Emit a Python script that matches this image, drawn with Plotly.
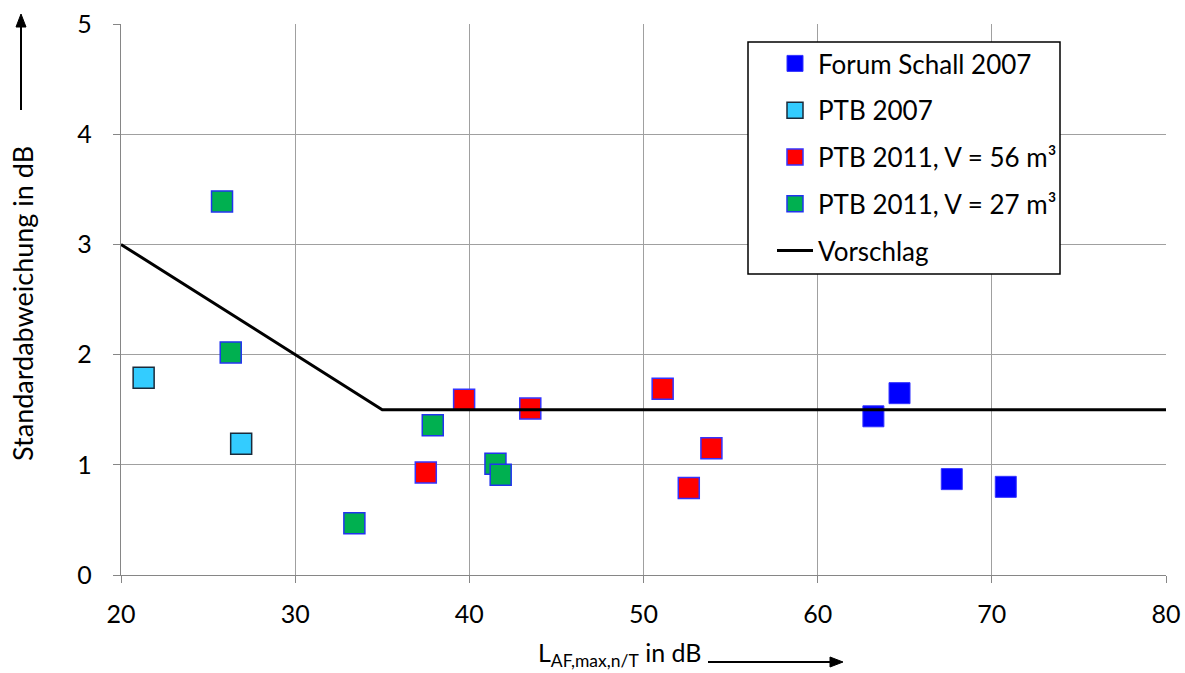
import plotly.graph_objects as go

# Data
forum_x = [63.2, 64.7, 67.7, 70.8]
forum_y = [1.44, 1.65, 0.87, 0.80]
ptb07_x = [21.3, 26.9]
ptb07_y = [1.79, 1.19]
ptb56_x = [37.5, 39.7, 43.5, 51.1, 52.6, 53.9]
ptb56_y = [0.93, 1.59, 1.51, 1.69, 0.79, 1.15]
ptb27_x = [25.8, 26.3, 33.4, 37.9, 41.5, 41.8]
ptb27_y = [3.39, 2.02, 0.47, 1.36, 1.01, 0.91]
vor_x = [20, 35, 80]
vor_y = [3.0, 1.5, 1.5]

FONT = "Lato, 'Open Sans', sans-serif"
MS = 21
W, H = 1185, 673
L, R, T, B = 121, 19, 24, 98
PW, PH = W - L - R, H - T - B


def xp(px):
    return (px - L) / PW


def yp(py):
    return (H - B - py) / PH


fig = go.Figure()
fig.add_trace(go.Scatter(x=forum_x, y=forum_y, mode="markers", name="Forum Schall 2007",
                         legendgroup="a",
                         marker=dict(symbol="square", size=MS, color="#0000FF",
                                     line=dict(color="#3333FF", width=1))))
fig.add_trace(go.Scatter(x=ptb07_x, y=ptb07_y, mode="markers", name="PTB 2007",
                         legendgroup="b",
                         marker=dict(symbol="square", size=MS, color="#33CCFF",
                                     line=dict(color="#1a2a3a", width=1.5))))
fig.add_trace(go.Scatter(x=ptb56_x, y=ptb56_y, mode="markers", name="PTB 2011, V = 56 m³",
                         legendgroup="c",
                         marker=dict(symbol="square", size=MS, color="#FF0000",
                                     line=dict(color="#3333FF", width=1.5))))
fig.add_trace(go.Scatter(x=ptb27_x, y=ptb27_y, mode="markers", name="PTB 2011, V = 27 m³",
                         legendgroup="d",
                         marker=dict(symbol="square", size=MS, color="#00B050",
                                     line=dict(color="#2233EE", width=1.5))))
fig.add_trace(go.Scatter(x=vor_x, y=vor_y, mode="lines", name="Vorschlag",
                         legendgroup="e",
                         line=dict(color="black", width=3)))

fig.update_layout(
    width=W, height=H,
    margin=dict(l=L, r=R, t=T, b=B, autoexpand=False),
    paper_bgcolor="white", plot_bgcolor="white",
    font=dict(family=FONT, size=25, color="black"),
    showlegend=True,
    legend=dict(x=xp(772), y=yp(40), xanchor="left", yanchor="top",
                bgcolor="rgba(0,0,0,0)", borderwidth=0,
                font=dict(size=26), tracegroupgap=10,
                itemwidth=36),
    xaxis=dict(range=[20, 80], dtick=10, showgrid=True, gridcolor="#A0A0A0", gridwidth=1.3,
               zeroline=False, showline=True, linecolor="#868686", linewidth=1.3,
               ticks="outside", ticklen=7, tickcolor="#868686",
               tickfont=dict(size=25), ticklabelstandoff=10),
    yaxis=dict(range=[0, 5], dtick=1, showgrid=True, gridcolor="#A0A0A0", gridwidth=1.3,
               zeroline=False, showline=True, linecolor="#868686", linewidth=1.3,
               ticks="outside", ticklen=7, tickcolor="#868686",
               tickfont=dict(size=25), ticklabelstandoff=16),
)

# Legend box
fig.add_shape(type="rect", xref="paper", yref="paper",
              x0=xp(748), x1=xp(1060), y0=yp(274), y1=yp(42),
              line=dict(color="black", width=1.5), fillcolor="white", layer="above")

# Axis titles as annotations
fig.add_annotation(xref="paper", yref="paper", x=xp(704), y=yp(654),
                   text="L<sub>AF,max,n/T</sub> in dB", showarrow=False,
                   font=dict(size=25), xanchor="right", yanchor="middle")
fig.add_annotation(xref="paper", yref="paper", x=xp(22), y=yp(304),
                   text="Standardabweichung in dB", showarrow=False, textangle=-90,
                   font=dict(size=27), xanchor="center", yanchor="middle")

# Arrows drawn as shapes (line + triangular head)
fig.add_shape(type="line", xref="paper", yref="paper",
              x0=xp(708), x1=xp(832), y0=yp(662), y1=yp(662),
              line=dict(color="black", width=2))
fig.add_shape(type="path", xref="paper", yref="paper",
              path=f"M {xp(843)} {yp(662)} L {xp(830)} {yp(657)} L {xp(830)} {yp(667)} Z",
              fillcolor="black", line=dict(color="black", width=1))
fig.add_shape(type="line", xref="paper", yref="paper",
              x0=xp(21), x1=xp(21), y0=yp(110), y1=yp(26),
              line=dict(color="black", width=2))
fig.add_shape(type="path", xref="paper", yref="paper",
              path=f"M {xp(21)} {yp(14)} L {xp(16)} {yp(27)} L {xp(26)} {yp(27)} Z",
              fillcolor="black", line=dict(color="black", width=1))

fig.write_html("out.html", config={"displayModeBar": False},
               post_script="document.body.style.margin='0';")
